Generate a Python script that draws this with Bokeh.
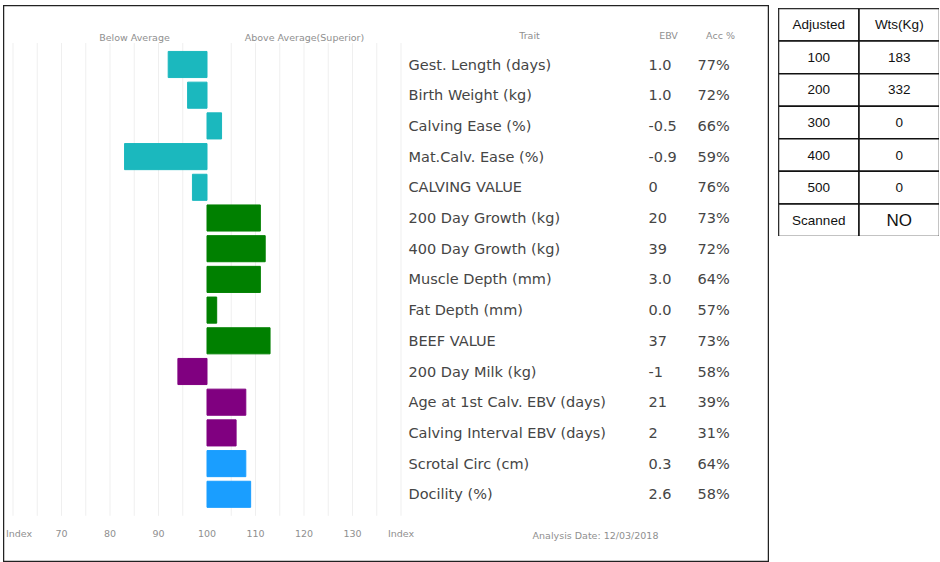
from bokeh.plotting import figure
from bokeh.models import Range1d, ColumnDataSource
from bokeh.layouts import row
from bokeh.embed import file_html
from bokeh.resources import INLINE
from bokeh.core.properties import value
import numpy as np

# ---------------- data ----------------
traits = ["Gest. Length (days)", "Birth Weight (kg)", "Calving Ease (%)", "Mat.Calv. Ease (%)",
          "CALVING VALUE", "200 Day Growth (kg)", "400 Day Growth (kg)", "Muscle Depth (mm)",
          "Fat Depth (mm)", "BEEF VALUE", "200 Day Milk (kg)", "Age at 1st Calv. EBV (days)",
          "Calving Interval EBV (days)", "Scrotal Circ (cm)", "Docility (%)"]
ebv = ["1.0", "1.0", "-0.5", "-0.9", "0", "20", "39", "3.0", "0.0", "37", "-1", "21", "2", "0.3", "2.6"]
acc = ["77%", "72%", "66%", "59%", "76%", "73%", "72%", "64%", "57%", "73%", "58%", "39%", "31%", "64%", "58%"]
index_vals = [92, 96, 103, 83, 97, 111, 112, 111, 102, 113, 94, 108, 106, 108, 109]
groups = ["calving"] * 5 + ["beef"] * 5 + ["maternal"] * 3 + ["other"] * 2
group_colors = {"calving": "#1BB8BE", "beef": "#008000", "maternal": "#800080", "other": "#1A9EFF"}

tick_vals = [60, 70, 80, 90, 100, 110, 120, 130, 140]
tick_labels = ["Index", "70", "80", "90", "100", "110", "120", "130", "Index"]
grid_vals = [60, 65, 70, 75, 80, 85, 90, 95, 105, 110, 115, 120, 125, 130, 135, 140]
base_index = 100

table_col1 = ["Adjusted", "100", "200", "300", "400", "500", "Scanned"]
table_col2 = ["Wts(Kg)", "183", "332", "0", "0", "0", "NO"]

FONT = "DejaVu Sans"

# ---------------- left panel ----------------
W, H = 766, 557
px_per_unit = 4.85
zero_px = 203.5
lo = base_index - zero_px / px_per_unit
hi = lo + W / px_per_unit
row_h = 30.7
first_row_px = 59
y_top = -first_row_px / row_h
y_bot = y_top + H / row_h

p = figure(width=W, height=H, x_range=Range1d(lo, hi), y_range=Range1d(y_bot, y_top),
           output_backend="svg", toolbar_location=None, min_border=0,
           x_axis_location=None, y_axis_location=None)
p.extra_x_ranges = {"px": Range1d(3, 3 + W)}
p.grid.visible = False
p.outline_line_color = "#222222"
p.outline_line_width = 1.5
p.background_fill_color = "white"
p.border_fill_color = "white"

n = len(traits)
rows = np.arange(n)

# faint vertical guide lines
p.segment(x0=grid_vals, x1=grid_vals, y0=[-0.7] * len(grid_vals), y1=[n - 0.3] * len(grid_vals),
          line_color="#efefef", line_width=1)

vals = np.array(index_vals, dtype=float)
src = ColumnDataSource(dict(
    y=rows,
    left=np.minimum(vals, base_index),
    right=np.maximum(vals, base_index),
    color=[group_colors[g] for g in groups],
))
p.hbar(y="y", left="left", right="right", height=0.85, fill_color="color",
       line_color="color", line_width=1, source=src)

SMALL = "9.5px"
GREY = "#8f8f8f"
# headers
p.text(x=[134, 304], y=[-0.88, -0.88], text=["Below Average", "Above Average(Superior)"],
       x_range_name="px", text_font=value(FONT), text_font_size=SMALL,
       text_color=GREY, text_align="center", text_baseline="middle")
p.text(x=[529, 668, 720], y=[-0.95] * 3, text=["Trait", "EBV", "Acc %"],
       x_range_name="px", text_font=value(FONT), text_font_size=SMALL,
       text_color=GREY, text_align="center", text_baseline="middle")

# trait table
tsrc = ColumnDataSource(dict(y=rows, trait=traits, ebv=ebv, acc=acc))
for col, xpos in (("trait", 408), ("ebv", 648), ("acc", 697)):
    p.text(x=xpos, y="y", text=col, source=tsrc, x_range_name="px",
           text_font=value(FONT), text_font_size="14.5px", text_color="#454545",
           text_baseline="middle")

# bottom index scale labels (first one kept inside the frame)
ksrc = ColumnDataSource(dict(
    x=tick_vals, y=[15.28] * len(tick_vals), text=tick_labels,
    align=["left"] + ["center"] * (len(tick_vals) - 1),
    xoff=[-7] + [0] * (len(tick_vals) - 1),
))
p.text(x="x", y="y", text="text", source=ksrc, text_align="align", x_offset="xoff",
       text_font=value(FONT), text_font_size=SMALL, text_color=GREY,
       text_baseline="middle")
p.text(x=[595], y=[15.35], text=["Analysis Date: 12/03/2018"], x_range_name="px",
       text_font=value(FONT), text_font_size=SMALL, text_color=GREY,
       text_align="center", text_baseline="middle")

# ---------------- right table ----------------
TW, TH = 161, 228
nrows = len(table_col1)
t = figure(width=TW, height=TH, x_range=Range1d(0, 2), y_range=Range1d(nrows, 0),
           output_backend="svg", toolbar_location=None, min_border=0,
           x_axis_location=None, y_axis_location=None)
t.grid.visible = False
t.outline_line_color = "#111111"
t.outline_line_width = 2

r = np.arange(nrows)
t.quad(left=[0] * nrows + [1] * nrows, right=[1] * nrows + [2] * nrows,
       top=list(r) * 2, bottom=list(r + 1) * 2,
       fill_color="white", line_color="#111111", line_width=1.5)
t.text(x=[0.5] * nrows, y=r + 0.5, text=table_col1, text_font=value("Liberation Sans"),
       text_font_size="13.5px", text_color="#111111", text_align="center", text_baseline="middle")
t.text(x=[1.5] * (nrows - 1), y=(r + 0.5)[:-1], text=table_col2[:-1], text_font=value("Liberation Sans"),
       text_font_size="13.5px", text_color="#111111", text_align="center", text_baseline="middle")
t.text(x=[1.5], y=[nrows - 0.5], text=table_col2[-1:], text_font=value("Liberation Sans"),
       text_font_size="17px", text_color="#111111", text_align="center", text_baseline="middle")
t.margin = (3, 0, 0, 0)

layout = row(p, t, spacing=9, margin=(5, 0, 0, 3))

open("out.html", "w").write(file_html(layout, INLINE))
